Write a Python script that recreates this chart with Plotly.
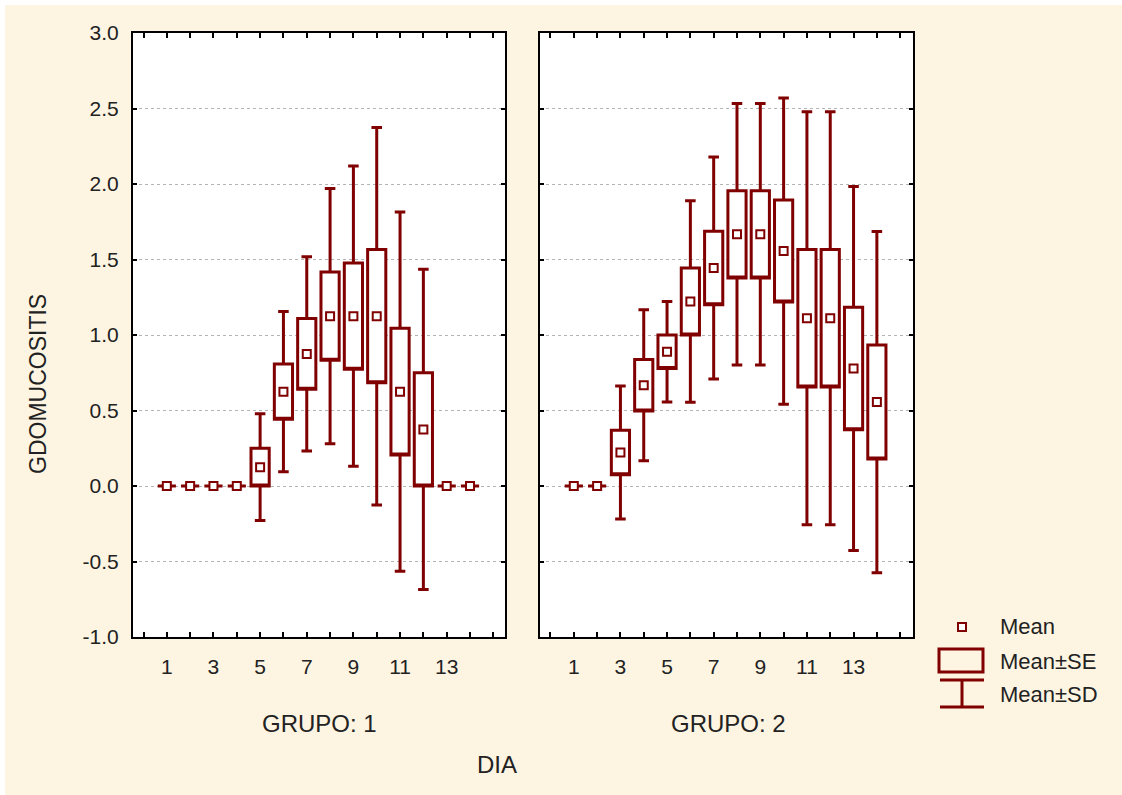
import plotly.graph_objects as go

# ---- data ----
days = list(range(1, 15))

g1_mean = [0, 0, 0, 0, 0.125, 0.625, 0.875, 1.125, 1.125, 1.125, 0.625, 0.375, 0, 0]
g1_se   = [0, 0, 0, 0, 0.125, 0.183, 0.235, 0.292, 0.352, 0.442, 0.420, 0.375, 0, 0]
g1_sd   = [0, 0, 0, 0, 0.354, 0.530, 0.643, 0.845, 0.995, 1.250, 1.190, 1.060, 0, 0]

g2_mean = [0, 0, 0.222, 0.667, 0.889, 1.222, 1.444, 1.667, 1.667, 1.556, 1.111, 1.111, 0.778, 0.556]
g2_se   = [0, 0, 0.147, 0.170, 0.111, 0.222, 0.243, 0.289, 0.289, 0.338, 0.455, 0.455, 0.405, 0.378]
g2_sd   = [0, 0, 0.441, 0.500, 0.333, 0.667, 0.735, 0.866, 0.866, 1.014, 1.368, 1.368, 1.205, 1.130]

xtick_vals = [1, 3, 5, 7, 9, 11, 13]
xtick_text = ["1", "3", "5", "7", "9", "11", "13"]
ytick_vals = [-1.0, -0.5, 0.0, 0.5, 1.0, 1.5, 2.0, 2.5, 3.0]
ytick_text = ["-1.0", "-0.5", "0.0", "0.5", "1.0", "1.5", "2.0", "2.5", "3.0"]

panel_titles = ["GRUPO: 1", "GRUPO: 2"]
legend_labels = ["Mean", "Mean\u00b1SE", "Mean\u00b1SD"]

RED = "#800000"
CREAM = "#FDF5E2"
FONT = "Liberation Sans, Arial, sans-serif"

W, H = 1122, 795
L, R, T, B = 133, 913, 33, 637  # plot area in pixels


def px(x):
    return (x - L) / (R - L)


def py(y):
    return (B - y) / (B - T)


fig = go.Figure()

groups = [(g1_mean, g1_se, g1_sd, "x", "y"), (g2_mean, g2_se, g2_sd, "x2", "y2")]
for mean, se, sd, xa, ya in groups:
    q1 = [m - s for m, s in zip(mean, se)]
    q3 = [m + s for m, s in zip(mean, se)]
    lo = [m - s for m, s in zip(mean, sd)]
    hi = [m + s for m, s in zip(mean, sd)]
    fig.add_trace(go.Box(
        x=days, q1=q1, median=q1, q3=q3, lowerfence=lo, upperfence=hi,
        width=0.78, whiskerwidth=0.58,
        line=dict(color=RED, width=3), fillcolor="white",
        boxpoints=False, showlegend=False, hoverinfo="skip",
        xaxis=xa, yaxis=ya,
    ))
    fig.add_trace(go.Scatter(
        x=days, y=mean, mode="markers",
        marker=dict(symbol="square", size=8, color="white", line=dict(color=RED, width=2)),
        showlegend=False, hoverinfo="skip", xaxis=xa, yaxis=ya,
    ))

split1 = (505 - L) / (R - L)
split2 = (540 - L) / (R - L)

xcommon = dict(
    tickvals=xtick_vals, ticktext=xtick_text, ticks="inside", ticklen=5, tickwidth=2,
    tickcolor="black", showline=True, linecolor="black", linewidth=2, mirror="ticks",
    showgrid=False, zeroline=False,
    minor=dict(tickvals=list(range(0, 16)), ticks="inside", ticklen=5, tickwidth=2, tickcolor="black"),
    tickfont=dict(family=FONT, size=21, color="#222"), ticklabelstandoff=10,
)
ycommon = dict(
    range=[-1.0, 3.0], tickvals=ytick_vals, ticktext=ytick_text, ticks="inside", ticklen=4,
    tickwidth=2, tickcolor="black", showline=True, linecolor="black", linewidth=2,
    mirror="ticks", showgrid=True, gridcolor="#B4B4B4", griddash="dot", gridwidth=1,
    zeroline=False, tickfont=dict(family=FONT, size=21, color="#222"),
)

fig.update_layout(
    width=W, height=H,
    margin=dict(l=L, r=W - R, t=T, b=H - B),
    paper_bgcolor=CREAM, plot_bgcolor="white",
    font=dict(family=FONT, color="#222"),
    xaxis=dict(domain=[0, split1], range=[-0.45, 15.5], **xcommon),
    xaxis2=dict(domain=[split2, 1], range=[-0.45, 15.55], anchor="y2", **xcommon),
    yaxis=dict(domain=[0, 1], anchor="x", ticklabelstandoff=8, **ycommon),
    yaxis2=dict(domain=[0, 1], anchor="x2", showticklabels=False, **ycommon),
)

shapes = [
    # thin white border along top and left edges of the picture
    dict(type="rect", xref="paper", yref="paper", x0=px(0), x1=px(W), y0=py(0), y1=py(5),
         fillcolor="white", line=dict(width=0), layer="below"),
    dict(type="rect", xref="paper", yref="paper", x0=px(0), x1=px(5), y0=py(0), y1=py(H),
         fillcolor="white", line=dict(width=0), layer="below"),
    # legend glyphs
    dict(type="rect", xref="paper", yref="paper", x0=px(958), x1=px(966), y0=py(623), y1=py(631),
         fillcolor="white", line=dict(color=RED, width=2)),
    dict(type="rect", xref="paper", yref="paper", x0=px(939), x1=px(983), y0=py(649), y1=py(672),
         fillcolor="rgba(0,0,0,0)", line=dict(color=RED, width=3)),
    dict(type="line", xref="paper", yref="paper", x0=px(940), x1=px(984), y0=py(680), y1=py(680),
         line=dict(color=RED, width=3)),
    dict(type="line", xref="paper", yref="paper", x0=px(962), x1=px(962), y0=py(680), y1=py(707),
         line=dict(color=RED, width=3)),
    dict(type="line", xref="paper", yref="paper", x0=px(940), x1=px(984), y0=py(707), y1=py(707),
         line=dict(color=RED, width=3)),
]
fig.update_layout(shapes=shapes)

ann = [
    dict(text=panel_titles[0], x=px(319), y=py(724), xanchor="center", yanchor="middle", font=dict(size=24)),
    dict(text=panel_titles[1], x=px(728), y=py(724), xanchor="center", yanchor="middle", font=dict(size=24)),
    dict(text="DIA", x=px(497), y=py(764), xanchor="center", yanchor="middle", font=dict(size=24)),
    dict(text="GDOMUCOSITIS", x=px(38), y=py(384), xanchor="center", yanchor="middle",
         textangle=-90, font=dict(size=23)),
    dict(text=legend_labels[0], x=px(998), y=py(626), xanchor="left", yanchor="middle", font=dict(size=22)),
    dict(text=legend_labels[1], x=px(998), y=py(661), xanchor="left", yanchor="middle", font=dict(size=22)),
    dict(text=legend_labels[2], x=px(998), y=py(694), xanchor="left", yanchor="middle", font=dict(size=22)),
]
for a in ann:
    a.update(xref="paper", yref="paper", showarrow=False)
    a["font"].update(family=FONT, color="#222")
fig.update_layout(annotations=ann)

fig.write_html(
    "out.html",
    config={"displayModeBar": False},
    post_script="document.body.style.margin='0';document.body.style.overflow='hidden';",
)
